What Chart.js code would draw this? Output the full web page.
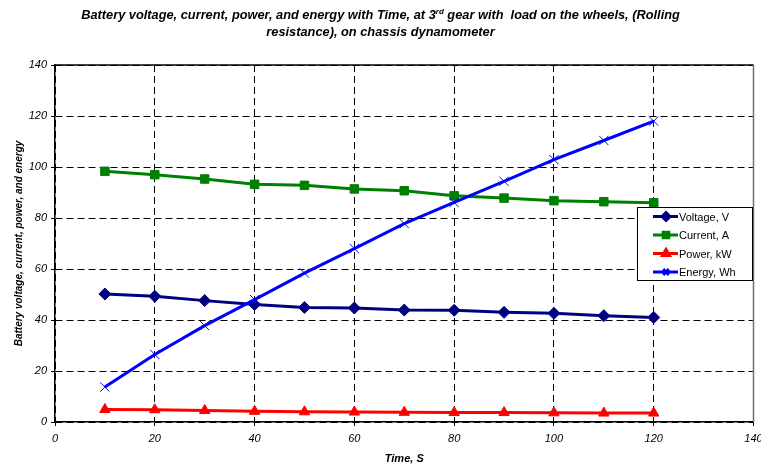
<!DOCTYPE html>
<html>
<head>
<meta charset="utf-8">
<script src="https://cdn.jsdelivr.net/npm/chart.js@4.4.1/dist/chart.umd.min.js"></script>
<style>
  body { margin: 0; background: #fff; }
  #wrap { position: relative; width: 761px; height: 466px; }
  #titulo {
    position: absolute; left: 0; top: 6px; width: 761px;
    text-align: center; font-family: "Liberation Sans", Arial, sans-serif;
    font-size: 12.8px; font-weight: bold; font-style: italic; line-height: 17px; color: #000;
  }
  #titulo sup { font-size: 8px; line-height: 0; }
  canvas { position: absolute; left: 0; top: 0; }
</style>
</head>
<body>
<div id="wrap">
  <canvas id="grafico" width="761" height="466"></canvas>
  <div id="titulo">Battery voltage, current, power, and energy with Time, at 3<sup>rd</sup> gear with&nbsp; load on the wheels, (Rolling<br>resistance), on chassis dynamometer</div>
</div>
<script>
const tempo = [10, 20, 30, 40, 50, 60, 70, 80, 90, 100, 110, 120];
const tensao = [50.2, 49.3, 47.6, 46.1, 44.9, 44.7, 43.9, 43.8, 43.0, 42.6, 41.7, 41.0];
const corrente = [98.3, 97.0, 95.3, 93.2, 92.8, 91.4, 90.7, 88.7, 87.8, 86.8, 86.4, 86.0];
const potencia = [4.9, 4.8, 4.5, 4.2, 4.0, 3.9, 3.8, 3.7, 3.7, 3.6, 3.5, 3.5];
const energia = [13.7, 26.5, 37.8, 48.0, 58.4, 68.0, 77.8, 86.1, 94.4, 102.9, 110.4, 118.0];

const nomes = ["Voltage, V", "Current, A", "Power, kW", "Energy, Wh"];
const cores = ["#000080", "#008000", "#ff0000", "#0000ff"];
const marcadores = ["rectRot", "rect", "triangle", "crossRot"];

const fonte = '"Liberation Sans", Arial, sans-serif';

function serie(i, valores, raio) {
  return {
    label: nomes[i],
    data: tempo.map((t, k) => ({ x: t, y: valores[k] })),
    borderColor: cores[i],
    backgroundColor: cores[i],
    borderWidth: 3,
    pointStyle: marcadores[i],
    pointRadius: raio,
    pointBorderWidth: 1,
    pointBorderColor: cores[i],
    pointBackgroundColor: cores[i],
    tension: 0,
    // a última série fica por cima
    order: 3 - i,
  };
}

// moldura do gráfico (topo e lado direito)
const moldura = {
  id: "moldura",
  beforeDatasetsDraw(chart) {
    const a = chart.chartArea;
    const ctx = chart.ctx;
    ctx.save();
    ctx.lineWidth = 1.5;
    ctx.strokeStyle = "#000";
    ctx.beginPath();
    ctx.moveTo(a.left, a.top);
    ctx.lineTo(a.right, a.top);
    ctx.stroke();
    ctx.strokeStyle = "#707070";
    ctx.beginPath();
    ctx.moveTo(a.right, a.top);
    ctx.lineTo(a.right, a.bottom);
    ctx.stroke();
    ctx.restore();
  },
};

// legenda em caixa, por cima da área do gráfico
const legenda = {
  id: "legenda",
  afterDraw(chart) {
    const ctx = chart.ctx;
    const x = 637, y = 207, w = 115, h = 73;
    ctx.save();
    ctx.fillStyle = "#fff";
    ctx.fillRect(x, y, w, h);
    ctx.strokeStyle = "#000";
    ctx.lineWidth = 1;
    ctx.strokeRect(x + 0.5, y + 0.5, w, h);
    ctx.font = "11px " + fonte;
    ctx.textBaseline = "middle";
    const linhas = [216.5, 235, 253.5, 272];
    chart.data.datasets.forEach((ds, i) => {
      const ly = linhas[i];
      ctx.strokeStyle = ds.borderColor;
      ctx.fillStyle = ds.borderColor;
      ctx.lineWidth = 3;
      ctx.beginPath();
      ctx.moveTo(x + 16, ly);
      ctx.lineTo(x + 41, ly);
      ctx.stroke();
      Chart.helpers.drawPoint(ctx, {
        pointStyle: ds.pointStyle, radius: 4, borderWidth: 1, rotation: 0,
      }, x + 29, ly);
      ctx.fillStyle = "#000";
      ctx.fillText(ds.label, x + 42, ly + 1);
    });
    ctx.restore();
  },
};

new Chart(document.getElementById("grafico"), {
  type: "line",
  data: {
    datasets: [
      serie(0, tensao, 6),
      serie(1, corrente, 6),
      serie(2, potencia, 6),
      serie(3, energia, 6.5),
    ],
  },
  options: {
    responsive: false,
    animation: false,
    layout: { padding: { top: 65, right: 7, left: 0, bottom: 0 } },
    plugins: {
      legend: { display: false },
      tooltip: { enabled: false },
    },
    scales: {
      x: {
        type: "linear",
        min: 0,
        max: 140,
        ticks: {
          stepSize: 20,
          color: "#000",
          padding: 6,
          font: { family: fonte, size: 11, style: "italic" },
        },
        grid: { color: "#000", lineWidth: 1, tickLength: 4, tickColor: "#000" },
        border: { display: true, color: "#000", width: 1.5, dash: [7, 4] },
        title: {
          display: true,
          text: "Time, S",
          color: "#000",
          padding: { top: 2, bottom: 0 },
          font: { family: fonte, size: 11, style: "italic", weight: "bold" },
        },
        afterFit(scale) {
          scale.height = 44;
          // o rótulo "140" pode ficar cortado na borda
          scale.paddingRight = 0;
        },
      },
      y: {
        min: 0,
        max: 140,
        ticks: {
          stepSize: 20,
          color: "#000",
          padding: 4,
          font: { family: fonte, size: 11, style: "italic" },
        },
        grid: { color: "#000", lineWidth: 1, tickLength: 4, tickColor: "#000" },
        border: { display: true, color: "#000", width: 1.5, dash: [7, 4] },
        title: {
          display: true,
          text: "Battery voltage, current, power, and energy",
          color: "#000",
          padding: { top: 13, bottom: 0 },
          font: { family: fonte, size: 10, style: "italic", weight: "bold" },
        },
        afterFit(scale) { scale.width = 55; },
      },
    },
  },
  plugins: [moldura, legenda],
});
</script>
</body>
</html>
